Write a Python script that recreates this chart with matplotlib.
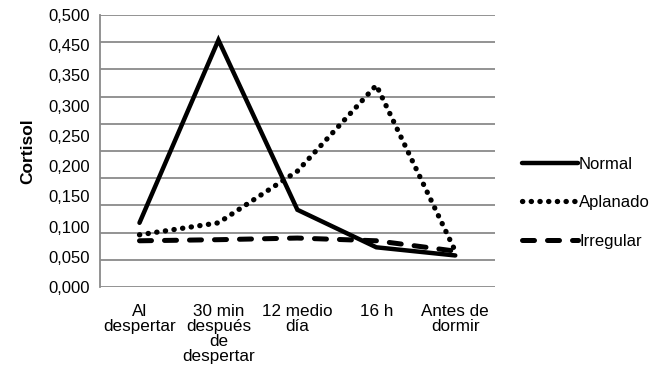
import numpy as np
import matplotlib
matplotlib.use("Agg")
import matplotlib.pyplot as plt
from matplotlib.font_manager import fontManager

# data
categories = ["Al\ndespertar", "30 min\ndespués\nde\ndespertar", "12 medio\ndía", "16 h", "Antes de\ndormir"]
normal = [0.118, 0.454, 0.142, 0.073, 0.058]
aplanado = [0.096, 0.118, 0.213, 0.371, 0.066]
irregular = [0.085, 0.087, 0.090, 0.085, 0.066]
ytick_labels = ["0,500", "0,450", "0,350", "0,300", "0,250", "0,200", "0,150", "0,100", "0,050", "0,000"]

names = [f.name for f in fontManager.ttflist]
font = "Liberation Sans Narrow" if "Liberation Sans Narrow" in names else "Liberation Sans"
plt.rcParams["font.family"] = [font, "DejaVu Sans"]

fig = plt.figure(figsize=(6.65, 3.85), dpi=100)
ax = fig.add_axes([0.1504, 0.2545, 0.5936, 0.7065])

x = np.arange(len(categories))
ax.plot(x, normal, color="black", lw=3.2, solid_capstyle="round", solid_joinstyle="miter", label="Normal")
ax.plot(x, aplanado, color="black", lw=3.8, linestyle=(0, (0.05, 1.6)), dash_capstyle="round", label="Aplanado")
ax.plot(x, irregular, color="black", lw=3.6, linestyle=(0, (2.4, 2.6)), dash_capstyle="round", label="Irregular")

ax.set_xlim(-0.5, len(categories) - 0.5)
ax.set_ylim(0, 0.5)

# gridlines every 0.05 (labels in the source are spread evenly, 0,400 missing)
for g in np.arange(0, 0.5001, 0.05):
    ax.axhline(g, color="#8a8a8a", lw=1.3, zorder=0)

ax.set_yticks(np.linspace(0.5, 0, len(ytick_labels)))
ax.set_yticklabels(ytick_labels, fontsize=12)
ax.set_xticks(x)
ax.set_xticklabels(categories, fontsize=12.3, linespacing=1.0, va="top")
ax.tick_params(axis="both", length=0)
ax.tick_params(axis="x", pad=12)
ax.tick_params(axis="y", pad=7)

for s in ["top", "right", "bottom"]:
    ax.spines[s].set_visible(False)
ax.spines["left"].set_color("#8a8a8a")
ax.spines["left"].set_linewidth(1.3)

ax.set_ylabel("Cortisol", fontsize=12.5, fontweight="bold", labelpad=10)

ax.legend(loc="center left", bbox_to_anchor=(1.03, 0.31), frameon=False,
          fontsize=12, handlelength=3.4, handletextpad=0.05, labelspacing=1.4)

fig.savefig("out.png", dpi=100)
